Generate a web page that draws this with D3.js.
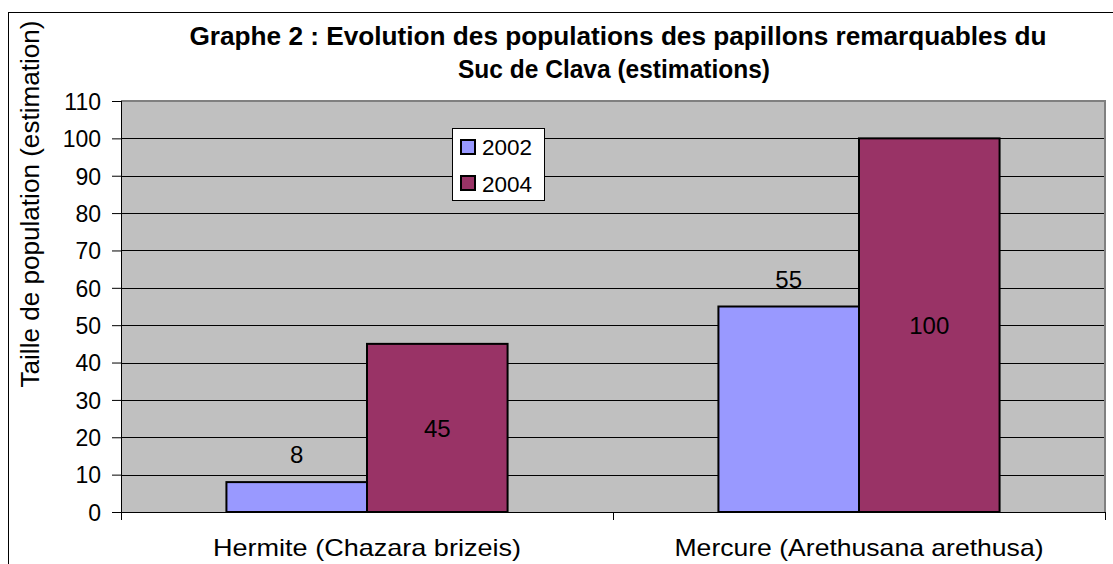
<!DOCTYPE html>
<html><head><meta charset="utf-8">
<script src="https://cdn.jsdelivr.net/npm/d3@7"></script>
<style>body{margin:0;background:#fff}svg{display:block}text{font-family:"Liberation Sans",Arial,sans-serif}</style>
</head><body><svg id="c" width="1113" height="564"></svg>
<script>
const categories = ["Hermite (Chazara brizeis)", "Mercure (Arethusana arethusa)"];
const seriesNames = ["2002", "2004"];
const values2002 = [8, 55];
const values2004 = [45, 100];
const yTicks = [0,10,20,30,40,50,60,70,80,90,100,110];
const colors = ["#9999FF", "#993366"];

const svg = d3.select("#c");
const L = 121, R = 1105, T = 101, B = 512;
const FF = "'Liberation Sans',Arial,sans-serif";
// outer chart border
svg.append("rect").attr("x",8.5).attr("y",12.5).attr("width",1200).attr("height",700)
  .attr("fill","none").attr("stroke","#000").attr("stroke-width",1);

const x0 = d3.scaleBand().domain(categories).range([L,R]).paddingInner(0).paddingOuter(0);
const x1 = d3.scaleBand().domain(seriesNames).range([0,x0.bandwidth()]).paddingInner(0).paddingOuter(0.75);
const y = d3.scaleLinear().domain([0,110]).range([B,T]);

svg.append("rect").attr("x",L).attr("y",T).attr("width",R-L).attr("height",B-T).attr("fill","#C0C0C0");
// gridlines
svg.append("g").selectAll("line").data(yTicks.filter(d=>d>0&&d<110)).join("line")
  .attr("x1",L).attr("x2",R).attr("y1",d=>Math.round(y(d))+0.5).attr("y2",d=>Math.round(y(d))+0.5)
  .attr("stroke","#000").attr("stroke-width",1);
// plot border (top/right)
svg.append("path").attr("d",`M${L},${T} H${R} V${B}`).attr("fill","none").attr("stroke","#808080").attr("stroke-width",2);

const series = [values2002, values2004];
const bars = [];
categories.forEach((c,i)=>seriesNames.forEach((s,j)=>bars.push({c,s,v:series[j][i],j})));
svg.append("g").selectAll("rect").data(bars).join("rect")
  .attr("x",d=>x0(d.c)+x1(d.s)).attr("width",x1.bandwidth())
  .attr("y",d=>y(d.v)).attr("height",d=>B-y(d.v))
  .attr("fill",d=>colors[d.j]).attr("stroke","#000").attr("stroke-width",2);

// labels
svg.append("g").selectAll("text").data(bars).join("text")
  .attr("x",d=>x0(d.c)+x1(d.s)+x1.bandwidth()/2)
  .attr("y",d=>d.j===0 ? y(d.v)-19 : (y(d.v)+B)/2+9)
  .attr("text-anchor","middle").attr("font-size",24).attr("fill","#000").text(d=>d.v);

// y axis
const ya = svg.append("g").attr("transform",`translate(${L},0)`)
  .call(d3.axisLeft(y).tickValues(yTicks).tickSize(9).tickPadding(11));
ya.select(".domain").remove();
ya.selectAll("line").attr("stroke","#000");
ya.append("line").attr("x1",0.5).attr("x2",0.5).attr("y1",T).attr("y2",B+7).attr("stroke","#000");
ya.selectAll("text").attr("font-size",23).attr("fill","#000").attr("font-family",FF).attr("dy","0.36em");

// x axis
const xa = svg.append("g").attr("transform",`translate(0,${B})`);
xa.append("line").attr("x1",L).attr("x2",R).attr("y1",0.5).attr("y2",0.5).attr("stroke","#000");
xa.selectAll(".tk").data([L, L+x0.bandwidth(), R]).join("line").attr("class","tk")
  .attr("x1",d=>d+0.5).attr("x2",d=>d+0.5).attr("y1",0).attr("y2",8).attr("stroke","#000");
const xLabelWidths = [308, 369];
xa.selectAll("text").data(categories).join("text")
  .attr("x",d=>x0(d)+x0.bandwidth()/2).attr("y",44)
  .attr("text-anchor","middle").attr("font-size",24).attr("fill","#000")
  .attr("textLength",(d,i)=>xLabelWidths[i]).attr("lengthAdjust","spacingAndGlyphs").text(d=>d);

// y title
svg.append("text").attr("transform","translate(39,204) rotate(-90)").attr("text-anchor","middle")
  .attr("font-size",25).attr("fill","#000").attr("textLength",367).attr("lengthAdjust","spacingAndGlyphs")
  .text("Taille de population (estimation)");

// title
const tg = svg.append("g").attr("font-size",25).attr("font-weight","bold").attr("fill","#000");
tg.append("text").attr("x",618).attr("y",45).attr("text-anchor","middle")
  .attr("textLength",857).attr("lengthAdjust","spacingAndGlyphs")
  .text("Graphe 2 : Evolution des populations des papillons remarquables du");
tg.append("text").attr("x",614).attr("y",78).attr("text-anchor","middle")
  .attr("textLength",312).attr("lengthAdjust","spacingAndGlyphs")
  .text("Suc de Clava (estimations)");

// legend
const lg = svg.append("g").attr("transform","translate(452,128)");
lg.append("rect").attr("x",0.5).attr("y",0.5).attr("width",92).attr("height",72).attr("fill","#fff").attr("stroke","#000");
seriesNames.forEach((s,j)=>{
  lg.append("rect").attr("x",9).attr("y",12+j*36).attr("width",14).attr("height",14)
    .attr("fill",colors[j]).attr("stroke","#000").attr("stroke-width",2);
  lg.append("text").attr("x",30).attr("y",27+j*37).attr("font-size",22.5).attr("fill","#000").text(s);
});
</script></body></html>
